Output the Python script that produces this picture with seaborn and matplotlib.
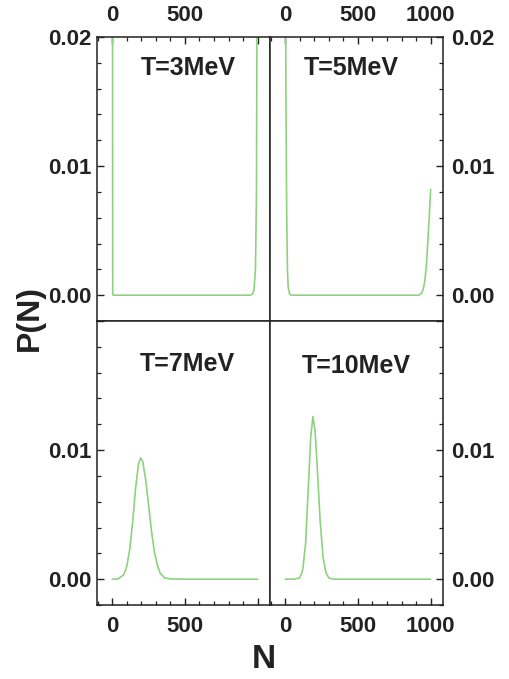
import matplotlib
matplotlib.use("Agg")
import matplotlib.pyplot as plt
import seaborn as sns
from matplotlib.ticker import MultipleLocator

# du lieu doc tu hinh (N, P(N)) cho tung nhiet do
n_t3 = [0, 3, 6, 900, 950, 965, 975, 985, 992, 1000]
p_t3 = [0.05, 0.0001, 0.0, 0.0, 0.0, 0.0001, 0.0004, 0.002, 0.008, 0.04]

n_t5 = [0, 5, 10, 15, 20, 30, 40, 900, 920, 940, 950, 960, 970, 980, 990, 1000]
p_t5 = [0.03, 0.015, 0.006, 0.002, 0.0006, 0.0001, 0.0, 0.0, 0.0, 0.0002,
        0.0005, 0.0011, 0.0022, 0.0040, 0.0060, 0.0082]

n_t7 = [0, 40, 80, 100, 120, 140, 160, 180, 195, 210, 230, 250, 270, 290,
        310, 330, 360, 400, 500, 1000]
p_t7 = [0.0, 0.00002, 0.00036, 0.0010, 0.0023, 0.0044, 0.0070, 0.0089, 0.0094,
        0.0091, 0.0077, 0.0057, 0.0037, 0.0021, 0.0011, 0.00046, 0.0001,
        0.00002, 0.0, 0.0]

n_t10 = [0, 60, 100, 120, 140, 160, 175, 190, 205, 220, 240, 260, 280, 300,
         330, 1000]
p_t10 = [0.0, 0.0, 0.0001, 0.0007, 0.0028, 0.0074, 0.0110, 0.0126, 0.0115,
         0.0087, 0.0045, 0.0017, 0.0005, 0.0001, 0.0, 0.0]

labels = ["T=3MeV", "T=5MeV", "T=7MeV", "T=10MeV"]
x_ticks = [0, 500, 1000]
y_ticks = [0.0, 0.01, 0.02]

sns.set_style("ticks")
plt.rcParams['font.family'] = ['Liberation Sans', 'DejaVu Sans']
plt.rcParams['font.weight'] = 'bold'

green = "#8fd27e"

fig, axes = plt.subplots(2, 2, figsize=(5.09, 6.79), dpi=100)
fig.subplots_adjust(left=0.1906, right=0.8703, bottom=0.109, top=0.9455,
                    wspace=0, hspace=0)

data = [(n_t3, p_t3), (n_t5, p_t5), (n_t7, p_t7), (n_t10, p_t10)]
text_pos = [(0.53, 0.89), (0.47, 0.89), (0.52, 0.85), (0.50, 0.84)]

for i, ax in enumerate(axes.flat):
    n, p = data[i]
    sns.lineplot(x=n, y=p, ax=ax, color=green, linewidth=1.2)
    ax.set_xlim(-105, 1085)
    ax.set_ylim(-0.002, 0.02)
    ax.set_xticks(x_ticks)
    ax.set_yticks(y_ticks)
    ax.xaxis.set_minor_locator(MultipleLocator(100))
    ax.yaxis.set_minor_locator(MultipleLocator(0.002))
    for s in ax.spines.values():
        s.set_linewidth(1.1)
        s.set_color("#222222")
    ax.text(text_pos[i][0], text_pos[i][1], labels[i], transform=ax.transAxes,
            ha="center", va="center", fontsize=18, fontweight="bold",
            color="#222222")

    row, col = divmod(i, 2)
    top = row == 0
    left = col == 0
    ax.tick_params(which="both", direction="in", color="#222222",
                   top=top, bottom=not top, left=left, right=not left,
                   labeltop=top, labelbottom=not top,
                   labelleft=left, labelright=not left,
                   labelsize=16, labelcolor="#222222")
    ax.tick_params(which="major", length=5, width=1)
    ax.tick_params(which="minor", length=3, width=0.9)
    ax.tick_params(axis="x", pad=8)
    ax.tick_params(axis="y", pad=4 if left else 6)

    if left:
        ax.set_xticklabels(["0", "500", ""])
    else:
        ax.set_xticklabels(["0", "500", "1000"])
    if top:
        ax.set_yticklabels(["0.00", "0.01", "0.02"])
    else:
        ax.set_yticklabels(["0.00", "0.01", ""])
    ax.set_xlabel("")
    ax.set_ylabel("")

fig.text(0.518, 0.028, "N", ha="center", va="center", fontsize=24,
         fontweight="bold", color="#222222")
fig.text(0.058, 0.532, "P(N)", ha="center", va="center", fontsize=23,
         fontweight="bold", rotation=90, color="#222222")

plt.savefig("out.png", dpi=100)
